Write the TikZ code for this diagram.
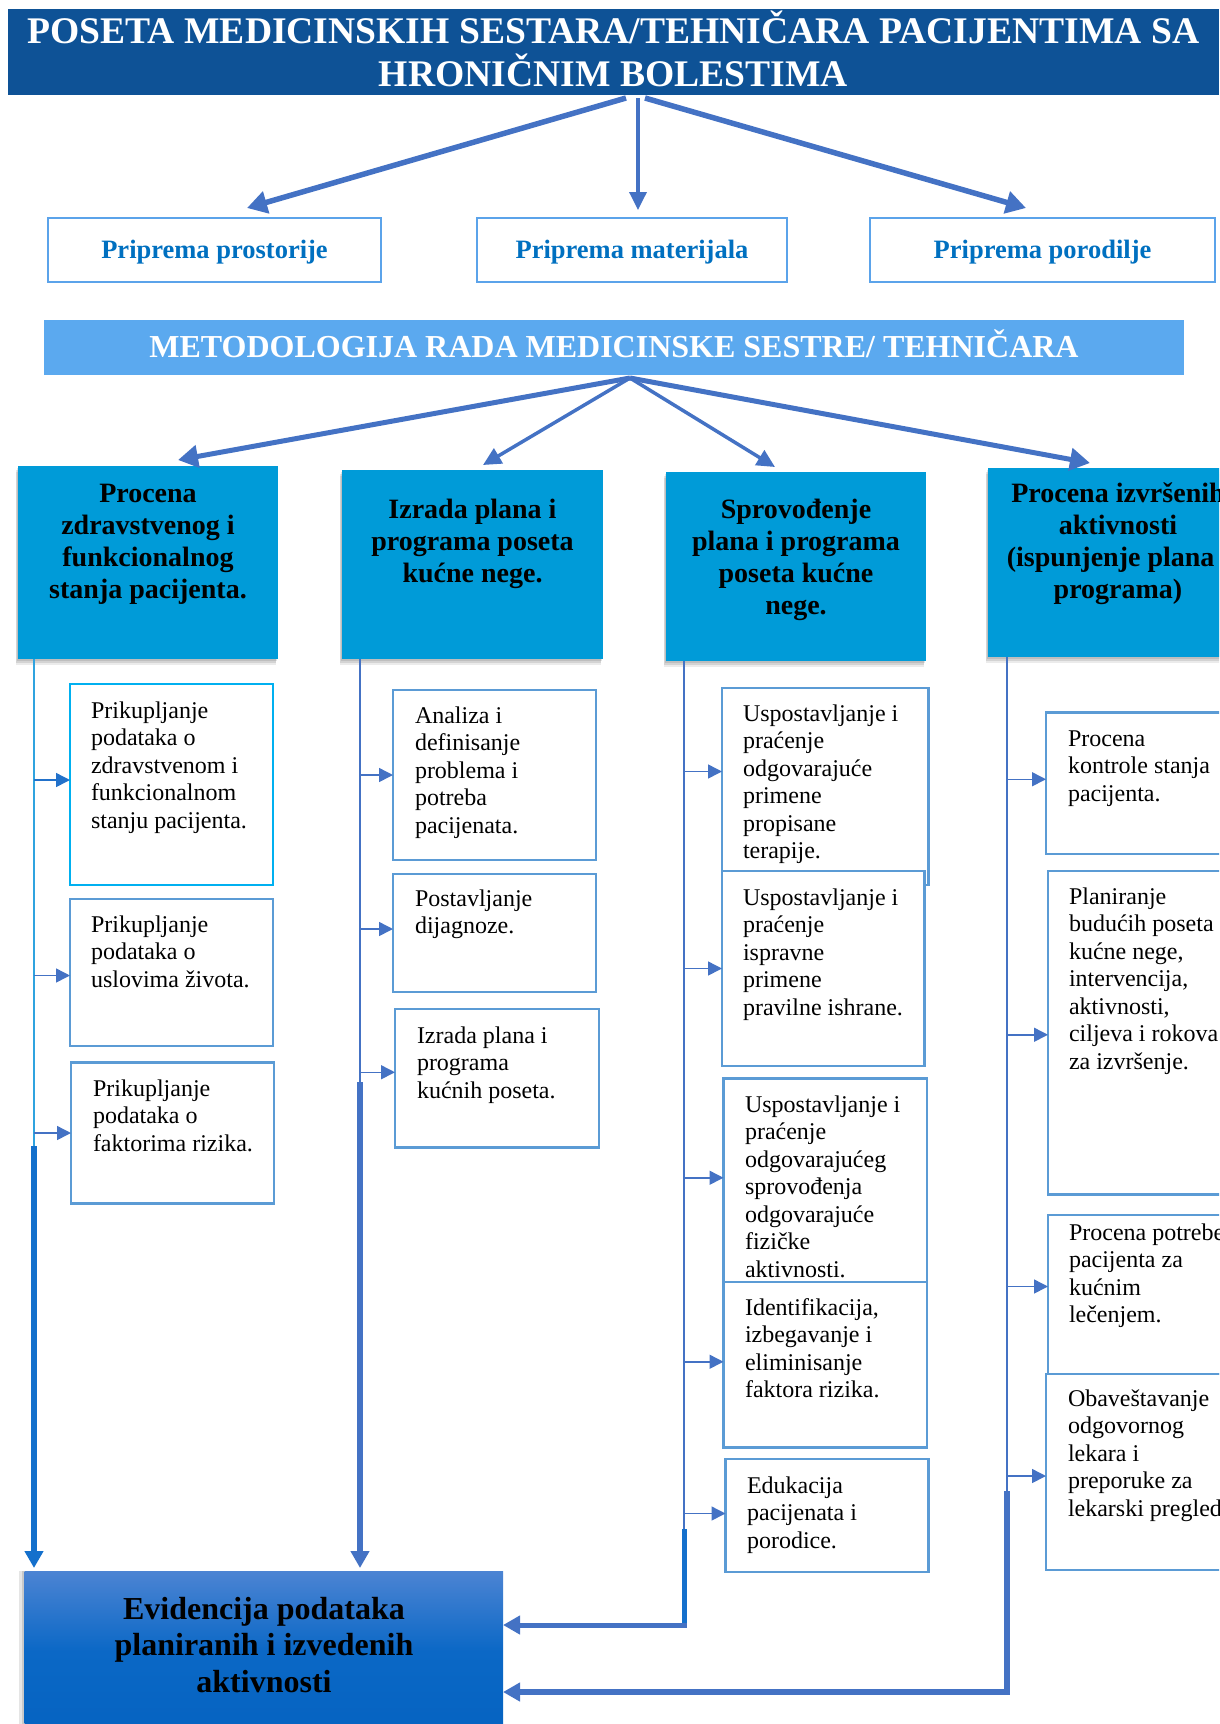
\documentclass[tikz,border=0pt]{standalone}
\usepackage{fontspec}
\setmainfont{Liberation Serif}
\usetikzlibrary{arrows.meta,shadows,fit}

\definecolor{titleblue}{HTML}{0E5296}
\definecolor{prepborder}{HTML}{5BA3EA}
\definecolor{preptext}{HTML}{0070C0}
\definecolor{methblue}{HTML}{5BA9EF}
\definecolor{headblue}{HTML}{009BD8}
\definecolor{arrowblue}{HTML}{4472C4}
\definecolor{itemborder}{HTML}{5B9BD5}
\definecolor{cyanborder}{HTML}{00B0F0}
\definecolor{lineA}{HTML}{2FA3DF}
\definecolor{deepblue}{HTML}{1470CC}
\definecolor{evtop}{HTML}{4C84D3}
\definecolor{evmid}{HTML}{0B68C6}
\definecolor{evbot}{HTML}{0563C1}

% body text of the small boxes, first baseline at the node's base
\newcommand{\itemtext}[1]{\parbox[t]{400pt}{\fontsize{24}{27.5}\selectfont #1}}
% bold centred text of the four column headers
\newcommand{\headtext}[1]{\parbox[t]{300pt}{\centering\fontsize{28}{32}\selectfont\bfseries #1}}

\begin{document}
\begin{tikzpicture}[x=1pt,y=-1pt,
  every node/.style={inner sep=0pt, outer sep=0pt},
  area/.style={fit={#1}, inner sep=0pt, rectangle},
  titlebox/.style={fill=titleblue},
  prepbox/.style={draw=prepborder, line width=2.5pt, fill=white},
  methbox/.style={fill=methblue},
  headbox/.style={fill=headblue,
    general shadow={fill=black, opacity=0.10, shadow yshift=-2pt, shadow xshift=-1pt},
    general shadow={fill=black, opacity=0.10, shadow yshift=-4pt, shadow xshift=-2pt},
    general shadow={fill=black, opacity=0.08, shadow yshift=-6pt, shadow xshift=-2pt}},
  itembox/.style={draw=itemborder, line width=2.5pt, fill=white},
  firstbox/.style={draw=cyanborder, line width=2.8pt, fill=white},
  evbox/.style={top color=evtop, bottom color=evbot, middle color=evmid,
    general shadow={fill=black, opacity=0.12, shadow xshift=-3pt, shadow yshift=0pt},
    general shadow={fill=black, opacity=0.10, shadow xshift=-6pt, shadow yshift=0pt}},
  itemtxt/.style={anchor=base west},
  headtxt/.style={anchor=base},
  bigarr/.style={draw=arrowblue, line width=5.5pt, -{Triangle[length=20pt,width=22pt]}},
  midarr/.style={draw=arrowblue, line width=3.5pt, -{Triangle[length=18pt,width=17pt]}},
  smallarr/.style={draw=arrowblue, line width=1.5pt, -{Triangle[length=14pt,width=14pt]}},
  downarr/.style={line width=5.5pt, -{Triangle[length=17pt,width=18pt]}},
  thinline/.style={line width=2pt}]

\useasboundingbox (0,0) rectangle (1219,1724);
\clip (0,0) rectangle (1219,1724);

% ---------- title ----------
\node[area={(8,9) (1219,95)}, titlebox] (title) {};
\node[headtxt, text=white] (titlet) at (613.5,43) {\parbox[t]{1215pt}{\centering\fontsize{37.6}{43}\selectfont\bfseries
  POSETA MEDICINSKIH SESTARA/TEHNIČARA PACIJENTIMA SA\\HRONIČNIM BOLESTIMA}};

% ---------- preparation boxes ----------
\node[area={(48,218) (381,282)}, prepbox] (p1) {};
\node[area={(477,218) (787,282)}, prepbox] (p2) {};
\node[area={(870,218) (1215,282)}, prepbox] (p3) {};
\node[headtxt, text=preptext, font=\fontsize{26.5}{30}\selectfont\bfseries] (p1t) at (214.5,258) {Priprema prostorije};
\node[headtxt, text=preptext, font=\fontsize{26.5}{30}\selectfont\bfseries] (p2t) at (632,258) {Priprema materijala};
\node[headtxt, text=preptext, font=\fontsize{26.5}{30}\selectfont\bfseries] (p3t) at (1042.5,258) {Priprema porodilje};

\draw[bigarr] ([shift={(12.5,3)}]title.south) -- ([shift={(32.5,-10)}]p1.north);
\draw[midarr] ([shift={(24.5,3)}]title.south) -- ([shift={(6,-8)}]p2.north);
\draw[bigarr] ([shift={(31.5,3)}]title.south) -- ([shift={(-16.5,-10)}]p3.north);

% ---------- methodology banner ----------
\node[area={(44,320) (1184,375)}, methbox] (meth) {};
\node[headtxt, text=white, font=\fontsize{32}{36}\selectfont\bfseries] (metht) at (614,357)
  {METODOLOGIJA RADA MEDICINSKE SESTRE/ TEHNIČARA};

% ---------- column headers ----------
\node[area={(18,466) (278,659)}, headbox] (hA) {};
\node[area={(342,470) (603,659)}, headbox] (hB) {};
\node[area={(666,472) (926,661)}, headbox] (hC) {};
\node[area={(988,468) (1248,657)}, headbox] (hD) {};
\node[headtxt] (hAt) at (148,502) {\headtext{Procena\\zdravstvenog i\\funkcionalnog\\stanja pacijenta.}};
\node[headtxt] (hBt) at (472.5,518) {\headtext{Izrada plana i\\programa poseta\\kućne nege.}};
\node[headtxt] (hCt) at (796,518) {\headtext{Sprovođenje\\plana i programa\\poseta kućne\\nege.}};
\node[headtxt] (hDt) at (1118,502) {\headtext{Procena izvršenih\\aktivnosti\\(ispunjenje plana i\\programa)}};

\draw[bigarr, line width=5pt] ([shift={(16,3)}]meth.south) -- ([shift={(30,-6)}]hA.north);
\draw[midarr] ([shift={(16,3)}]meth.south) -- ([shift={(10.5,-5)}]hB.north);
\draw[midarr] ([shift={(16,3)}]meth.south) -- ([shift={(-21,-5)}]hC.north);
\draw[bigarr, line width=5pt] ([shift={(16,3)}]meth.south) -- ([shift={(-28,-5)}]hD.north);

% ---------- record box ----------
\node[area={(24.5,1571) (503,1731)}, evbox] (ev) {};
\node[headtxt] (evt) at (264,1619) {\parbox[t]{470pt}{\centering\fontsize{32}{36.5}\selectfont\bfseries
  Evidencija podataka\\planiranih i izvedenih\\aktivnosti}};

% ---------- column A ----------
\node[area={(70,684) (273,885)}, firstbox] (a1) {};
\node[itemtxt] (a1t) at (91,718) {\itemtext{Prikupljanje\\podataka o\\zdravstvenom i\\funkcionalnom\\stanju pacijenta.}};
\node[area={(70,899) (273,1046)}, itembox] (a2) {};
\node[itemtxt] (a2t) at (91,932) {\itemtext{Prikupljanje\\podataka o\\uslovima života.}};
\node[area={(71,1062.5) (274,1203.5)}, itembox] (a3) {};
\node[itemtxt] (a3t) at (93,1096) {\itemtext{Prikupljanje\\podataka o\\faktorima rizika.}};

\coordinate (colA) at (34,1146);
\draw[thinline, draw=lineA, line width=1.5pt] (hA.south -| colA) -- (colA);
\draw[downarr, draw=deepblue] (colA) -- ([yshift=3pt]ev.north -| colA);
\draw[smallarr, draw=deepblue!70!arrowblue] ([yshift=4.5pt]colA |- a1.west) -- ([yshift=4.5pt]a1.west);
\draw[smallarr] ([yshift=-3pt]colA |- a2.west) -- ([yshift=-3pt]a2.west);
\draw[smallarr] (colA |- a3.west) -- (a3.west);

% ---------- column B ----------
\node[area={(393,690) (596,860)}, itembox] (b1) {};
\node[itemtxt] (b1t) at (415,723) {\itemtext{Analiza i\\definisanje\\problema i\\potreba\\pacijenata.}};
\node[area={(393,874) (596,992)}, itembox] (b2) {};
\node[itemtxt] (b2t) at (415,906) {\itemtext{Postavljanje\\dijagnoze.}};
\node[area={(395,1009) (599,1147.5)}, itembox] (b3) {};
\node[itemtxt] (b3t) at (417,1043) {\itemtext{Izrada plana i\\programa\\kućnih poseta.}};

\coordinate (colB) at (360,1082);
\draw[thinline, draw=arrowblue] (hB.south -| colB) -- (colB);
\draw[downarr, draw=arrowblue] (colB) -- ([yshift=3pt]ev.north -| colB);
\draw[smallarr] (colB |- b1.west) -- (b1.west);
\draw[smallarr] ([yshift=4pt]colB |- b2.west) -- ([yshift=4pt]b2.west);
\draw[smallarr] ([yshift=6pt]colB |- b3.west) -- ([yshift=6pt]b3.west);

% ---------- column C ----------
\node[area={(722,688) (928.5,885)}, itembox] (c1) {};
\node[itemtxt] (c1t) at (743,721) {\itemtext{Uspostavljanje i\\praćenje\\odgovarajuće\\primene\\propisane\\terapije.}};
\node[area={(722,871) (924.5,1066)}, itembox] (c2) {};
\node[itemtxt] (c2t) at (743,905) {\itemtext{Uspostavljanje i\\praćenje\\ispravne\\primene\\pravilne ishrane.}};
\node[area={(723.5,1078.5) (927,1299)}, itembox] (c3) {};
\node[itemtxt] (c3t) at (745,1112) {\itemtext{Uspostavljanje i\\praćenje\\odgovarajućeg\\sprovođenja\\odgovarajuće\\fizičke\\aktivnosti.}};
\node[area={(723.5,1282) (927,1447.5)}, itembox] (c4) {};
\node[itemtxt] (c4t) at (745,1315) {\itemtext{Identifikacija,\\izbegavanje i\\eliminisanje\\faktora rizika.}};
\node[area={(725.5,1459) (928.5,1572)}, itembox] (c5) {};
\node[itemtxt] (c5t) at (747,1493) {\itemtext{Edukacija\\pacijenata i\\porodice.}};

\coordinate (colC) at (684,1529);
\coordinate (cornC) at (684,1625);
\draw[thinline, draw=arrowblue] (hC.south -| colC) -- (colC);
\draw[line width=5pt, draw=deepblue] (colC) -- ([yshift=-2.5pt]cornC);
\draw[downarr, draw=arrowblue, line width=5pt] ([xshift=2.5pt]cornC) -- (ev.east |- cornC);
\draw[smallarr] ([yshift=15pt]colC |- c1.west) -- ([yshift=15pt]c1.west);
\draw[smallarr] (colC |- c2.west) -- (c2.west);
\draw[smallarr] ([yshift=11pt]colC |- c3.west) -- ([yshift=11pt]c3.west);
\draw[smallarr] ([yshift=3pt]colC |- c4.west) -- ([yshift=3pt]c4.west);
\draw[smallarr] ([yshift=2pt]colC |- c5.west) -- ([yshift=2pt]c5.west);

% ---------- column D ----------
\node[area={(1046,712.5) (1260,854)}, itembox] (d1) {};
\node[itemtxt] (d1t) at (1068,746) {\itemtext{Procena\\kontrole stanja\\pacijenta.}};
\node[area={(1048,871) (1260,1194.5)}, itembox] (d2) {};
\node[itemtxt] (d2t) at (1069,904) {\itemtext{Planiranje\\budućih poseta\\kućne nege,\\intervencija,\\aktivnosti,\\ciljeva i rokova\\za izvršenje.}};
\node[area={(1048,1215) (1260,1374)}, itembox] (d3) {};
\node[itemtxt] (d3t) at (1069,1240) {\itemtext{Procena potrebe\\pacijenta za\\kućnim\\lečenjem.}};
\node[area={(1046,1374) (1260,1570)}, itembox] (d4) {};
\node[itemtxt] (d4t) at (1068,1406) {\itemtext{Obaveštavanje\\odgovornog\\lekara i\\preporuke za\\lekarski pregled.}};

\coordinate (colD) at (1007,1491);
\coordinate (cornD) at (1007,1692);
\draw[thinline, draw=arrowblue] (hD.south -| colD) -- (colD);
\draw[line width=5.5pt, draw=arrowblue] (colD) -- ([yshift=-2.75pt]cornD);
\draw[downarr, draw=arrowblue] ([xshift=2.75pt]cornD) -- (ev.east |- cornD);
\draw[smallarr] ([yshift=4pt]colD |- d1.west) -- ([yshift=4pt]d1.west);
\draw[smallarr] ([yshift=-2pt]colD |- d2.west) -- ([yshift=-2pt]d2.west);
\draw[smallarr] ([yshift=8pt]colD |- d3.west) -- ([yshift=8pt]d3.west);
\draw[smallarr] ([yshift=-4pt]colD |- d4.west) -- ([yshift=-4pt]d4.west);
\end{tikzpicture}
\end{document}
